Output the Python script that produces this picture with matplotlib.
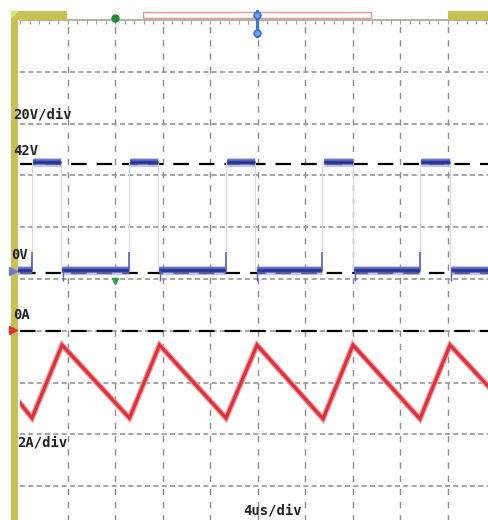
import matplotlib
matplotlib.use("Agg")
import matplotlib.pyplot as plt
from matplotlib.patches import Rectangle, Polygon
import numpy as np

# ---------------- data ----------------
# time axis: 4 us/div ; voltage: 20 V/div ; current: 2 A/div
V_ZERO_DIV = 5.12          # screen division of the 0 V marker
I_ZERO_DIV = 4.0           # screen division of the 0 A marker
V_PER_DIV = 20.0
A_PER_DIV = 2.0
V_REF = 42.0               # dashed 42 V marker line

rise_t = [1.01, 9.14, 17.35, 25.47, 33.68]     # us, switch-node rising edges
fall_t = [3.45, 11.62, 19.83, 28.04, 36.17]    # us, falling edges
v_high = 42.8                                   # V, plateau level
v_low = 1.2                                     # V, off level
v_spike = 8.0                                   # V, small spike before each rise
v_dip = -3.0                                    # V, small dip after each fall
t_end = 39.41

i_time = [0.0, 1.01, 3.54, 9.22, 11.75, 17.35, 19.96, 25.52, 28.04, 33.68, 36.21, 39.41]
i_amp = [-2.79, -3.37, -0.55, -3.37, -0.55, -3.37, -0.55, -3.40, -0.55, -3.40, -0.55, -2.13]

labels = {"20V/div": (13, 118), "42V": (13, 155), "0V": (11, 259),
          "0A": (13, 319), "2A/div": (17, 446), "4us/div": (243, 515)}

# ---------------- figure ----------------
W, H = 488, 520
fig = plt.figure(figsize=(W / 100, H / 100), dpi=100)
fig.patch.set_facecolor("white")

PXX, PXY = 47.5, 51.8   # pixels per division
ax = fig.add_axes([20 / W, (H - (20 + 10 * PXY)) / H, 10 * PXX / W, 10 * PXY / H])
ax.set_xlim(0, 40)
ax.set_ylim(0, 10)
for s in ax.spines.values():
    s.set_visible(False)
ax.set_xticks([])
ax.set_yticks([])

# grid
for k in range(1, 10):
    ax.axvline(4 * k, color="#8c8c8c", lw=1.0, ls=(0, (4.5, 5)), zorder=1)
for k in range(1, 10):
    ax.axhline(k, color="#959595", lw=1.2, ls=(0, (3, 2)), zorder=1)
# top border with small ticks
ax.axhline(10, color="#a4a894", lw=1.2, zorder=2, clip_on=False)
ticks = np.arange(0, 40, 0.8)
ax.vlines(ticks, 10 - 3.5 / PXY, 10, color="#a0a0a0", lw=0.8, zorder=2)


def vdiv(v):
    return V_ZERO_DIV + np.asarray(v) / V_PER_DIV


def idiv(a):
    return I_ZERO_DIV + np.asarray(a) / A_PER_DIV


# reference dashed lines
dash = (0, (7, 4.5))
ax.axhline(vdiv(V_REF), color="black", lw=1.6, ls=dash, zorder=3)
ax.axhline(vdiv(0), color="black", lw=1.6, ls=dash, zorder=3)
ax.axhline(idiv(0), color="black", lw=1.6, ls=dash, zorder=3)

# voltage trace: faint transitions
vt, vv = [0.0], [v_low]
for r, f in zip(rise_t, fall_t):
    vt += [r, r, f, f]
    vv += [v_low, v_high, v_high, v_low]
vt.append(t_end)
vv.append(v_low)
ax.plot(vt, vdiv(vv), color="#d6daf0", lw=0.8, zorder=4)

# plateaus as thick noisy-looking bands
layers = [("#9aa2dc", 6.5, 0.6), ("#4c58bf", 4.0, 0.9), ("#26318f", 1.8, 1.0)]


def band(t0, t1, lvl, clip=True):
    for c, lw, a in layers:
        ax.plot((t0, t1), vdiv([lvl, lvl]), color=c, lw=lw, alpha=a,
                solid_capstyle="butt", zorder=5, clip_on=clip)


prev = -0.6
for r, f in zip(rise_t, fall_t):
    band(prev + 0.12, r, v_low, clip=False)
    band(r + 0.12, f, v_high)
    prev = f
band(prev + 0.12, t_end, v_low)
# spikes and dips
ax.vlines(rise_t, vdiv(v_low), vdiv(v_spike), color="#5560c4", lw=1.2, zorder=6)
ax.vlines(np.array(fall_t) + 0.15, vdiv(v_dip), vdiv(v_low), color="#5560c4",
          lw=1.0, zorder=6)

# current trace
ax.plot(i_time, idiv(i_amp), color="#f0a0a4", lw=4.2, zorder=7,
        solid_joinstyle="miter")
ax.plot(i_time, idiv(i_amp), color="#e0303c", lw=2.4, zorder=8,
        solid_joinstyle="miter")

# ---------------- overlay (scope decorations) ----------------
ov = fig.add_axes([0, 0, 1, 1], zorder=10)
ov.set_xlim(0, W)
ov.set_ylim(H, 0)
ov.axis("off")
ov.patch.set_alpha(0)

yel = "#c9c052"
ov.add_patch(Rectangle((11, 11), 7, H - 11, color=yel, lw=0))
ov.add_patch(Rectangle((11, 11), 56, 9, color=yel, lw=0))
ov.add_patch(Rectangle((448, 11), 40, 9, color=yel, lw=0))
ov.add_patch(Polygon([(11, 11), (19, 11), (11, 19)], color="#d6ea6a", lw=0))
# record bar
ov.add_patch(Rectangle((143, 12), 228, 6, fill=False, ec="#e49a9a", lw=1.0))
# trigger marker
ov.plot([257, 257], [11, 36], color="#3c7ad8", lw=2.2)
ov.plot([257, 257], [15, 33], "o", ms=5, mfc="#6b9cee", mec="#2e66c8")
# green markers
ov.plot([115], [18], "o", ms=5, color="#1f8a30")
ov.plot([115], [281], "v", ms=4, color="#2aa040")
# channel markers on the left
ov.plot([13], [271], ">", ms=6, color="#6a7cd6")
ov.plot([13], [330], ">", ms=6, color="#e03030")

for txt, (x, y) in labels.items():
    ov.text(x, y, txt, fontsize=10, family="DejaVu Sans Mono", weight="bold",
            color="#222222", va="baseline", ha="left")

fig.savefig("out.png", dpi=100, facecolor="white")
